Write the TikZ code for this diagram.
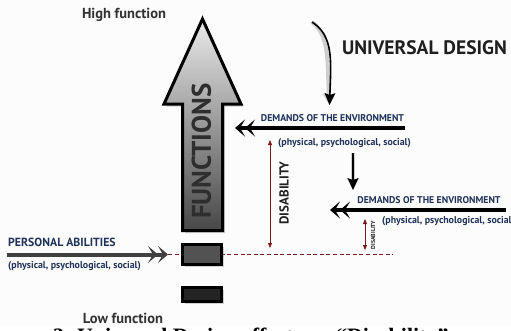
\documentclass[tikz,border=0pt]{standalone}
\usepackage{fontspec}
\setmainfont{PT Sans}
\setsansfont{PT Sans}
\newfontfamily\captionfont{Liberation Serif}
\usepackage{color}
\definecolor{paper}{RGB}{252,252,252}
\definecolor{darknavy}{RGB}{30,50,90}
\definecolor{darkbrown}{RGB}{122,26,26}
\usetikzlibrary{arrows.meta}
\usetikzlibrary{shadows}
\newcommand{\aspects}{(physical, psychological, social)}
\newcommand{\sz}[1]{\fontsize{#1}{#1}\selectfont}
\newcommand{\widthlevel}{39pt}
\tikzset{
    title/.style={font=\bfseries\sz{14.5}, text=black!80, inner sep=0pt},
    demand/.style={font=\bfseries\sz{9.8}, text=darknavy, inner sep=0pt},
    aspect/.style={font=\bfseries\sz{9.9}, text=darknavy, inner sep=0pt},
    shade/.style={drop shadow={shadow xshift=2.5pt, shadow yshift=-2.5pt, opacity=0.35}},
    level/.style={draw, line width=3pt, minimum width=\widthlevel, inner sep=0pt, shade},
    bigarrow/.style={draw, line width=3pt, line join=miter, top color=black!8, bottom color=black!72, shade},
    force/.style={line width=4pt, -{Stealth[length=10pt, width=17pt, inset=5pt, line width=0pt]Stealth[length=10pt, width=17pt, inset=5pt, line width=0pt]}},
    push/.style={line width=1.6pt, -{Stealth[length=12pt, width=11pt, inset=2pt, line width=0pt]}},
    push-shadow/.style={line width=4pt, black!25, opacity=0.75, xshift=-4pt, -{Stealth[length=12pt, width=13pt, inset=2pt, line width=0pt]}},
    gap/.style={darkbrown, line width=0.8pt, {Triangle[length=5pt, width=4pt]}-{Triangle[length=5pt, width=4pt]}},
    baseline-dash/.style={darkbrown, line width=1.5pt, dash pattern=on 4pt off 2.6pt}
}

\begin{document}
\begin{tikzpicture}[x=1pt, y=-1pt]
    \useasboundingbox (0,0) rectangle (511,330);
    \fill[paper] (0,0) rectangle (511,325);

    % scale of functions
    \filldraw[bigarrow] (202.5,19) -- (241,104) -- (222.5,104) -- (222.5,230.5)
        -- (182.5,230.5) -- (182.5,104) -- (164,104) -- cycle;
    \node[rotate=90, font=\bfseries\sz{27}, text=black!82] (functions) at (201.5,151) {FUNCTIONS};
    \node[title] (high) at (124,15) {High function};
    \node[title] (low) at (123,318.5) {Low function};

    % personal abilities and the level they reach
    \coordinate (pa-start) at (7,254.5);
    \coordinate (pa-tip) at (168,254.5);
    \coordinate (dash-end) at (393,254.5);
    \draw[baseline-dash] (pa-tip) -- (dash-end);
    \node[level, fill=black!68, minimum height=20pt] (level-mid) at (202,254.5) {};
    \node[level, fill=black!86, minimum height=14pt] (level-low) at (202,294.5) {};
    \draw[force, black!75] (pa-start) -- (pa-tip);
    \node[demand, font=\bfseries\sz{11.8}, anchor=west] (pa) at (8,242) {PERSONAL ABILITIES};
    \node[aspect, anchor=west] (pa-aspects) at (8,266) {\aspects};

    % universal design
    \node[font=\bfseries\sz{19.5}, text=black!88, inner sep=0pt] (ud) at (424.5,48) {UNIVERSAL DESIGN};
    \coordinate (ud-start) at (312,22);
    \coordinate (ud-tip) at (329.5,105);
    \draw[push-shadow] (ud-start) .. controls (334,36) and (331,62) .. (ud-tip);
    \draw[push] (ud-start) .. controls (334,36) and (331,62) .. (ud-tip);

    % demands before
    \node[demand] (dem-a) at (332.5,118) {DEMANDS OF THE ENVIRONMENT};
    \node[aspect, anchor=west] (dem-a-aspects) at (278,143) {\aspects};
    \coordinate (dem-a-start) at (405,128);
    \coordinate (dem-a-tip) at (235,128);
    \draw[force] (dem-a-start) -- (dem-a-tip);
    \coordinate (dis-a-top) at (270,140);
    \coordinate (dis-a-bot) at (270,248);
    \draw[gap] (dis-a-top) -- (dis-a-bot);
    \node[rotate=90, font=\bfseries\sz{13}, text=black!88, inner sep=0pt] (dis-a) at (284,193) {DISABILITY};

    % demands after
    \coordinate (shift-start) at (353,153);
    \coordinate (shift-tip) at (353,190);
    \draw[push-shadow, xshift=1pt] (shift-start) -- (shift-tip);
    \draw[push] (shift-start) -- (shift-tip);
    \node[demand] (dem-b) at (429,200.5) {DEMANDS OF THE ENVIRONMENT};
    \node[aspect, anchor=west] (dem-b-aspects) at (382,221.5) {\aspects};
    \coordinate (dem-b-start) at (506,210);
    \coordinate (dem-b-tip) at (330,210);
    \draw[force] (dem-b-start) -- (dem-b-tip);
    \coordinate (dis-b-top) at (365,219);
    \coordinate (dis-b-bot) at (365,250);
    \draw[gap] (dis-b-top) -- (dis-b-bot);
    \node[rotate=90, font=\bfseries\sz{5.8}, text=black!88, inner sep=0pt] (dis-b) at (373,235) {DISABILITY};

    % caption running below
    \begin{scope}
        \clip (0,325) rectangle (511,330);
        \node[font=\captionfont\bfseries\sz{22}, anchor=base west, inner sep=0pt] (caption) at (53,343)
            {3. Universal Design effects on “Disability”};
    \end{scope}
\end{tikzpicture}
\end{document}
